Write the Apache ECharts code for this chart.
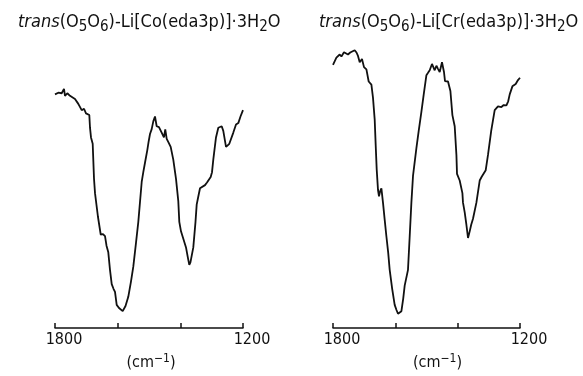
<!DOCTYPE html>
<html>
<head>
<meta charset="utf-8">
<script src="https://cdn.jsdelivr.net/npm/echarts@6/dist/echarts.min.js"></script>
<style>
html,body{margin:0;padding:0;background:#fff;}
#chart{width:583px;height:376px;}
</style>
</head>
<body>
<div id="chart"></div>
<script>
// Left panel: trans(O5O6)-Li[Co(eda3p)]·3H2O  (wavenumber cm-1, transmittance arbitrary %)
const coWavenumber = [1800,1789.5,1778.6,1771.3,1768.1,1760.7,1752.1,1736.2,1725.6,1714.8,1707.4,1701.1,1695.6,1690.5,1688.3,1685.1,1679.7,1675.5,1672.3,1662.8,1654.1,1646.8,1640.4,1635.6,1629.9,1624.5,1619,1613.3,1608.5,1603.1,1595.7,1583.9,1575,1566.1,1557.4,1550.1,1541.5,1534.1,1523.3,1518.2,1512.8,1505.4,1501.6,1496.8,1491.4,1486.3,1480.9,1475.5,1468.2,1459.6,1452.3,1448.1,1443.5,1437.8,1430.8,1422.5,1413.8,1406.5,1403.3,1397.9,1392.4,1381.9,1375.5,1371.4,1367.6,1358.6,1351.6,1347.8,1343.6,1337.2,1331.8,1321.3,1314.9,1303.1,1298.9,1294.8,1286.2,1278.8,1268,1262.9,1254.2,1243.7,1230.9,1222.3,1215,1208,1200];
const coTrans = [81.4,82.0,81.8,83.3,80.9,81.8,80.9,79.8,78.1,75.9,76.4,74.8,75.3,74.2,69.8,66.4,64.2,52.0,47.0,38.7,32.6,32.7,32.0,28.7,26.4,20.3,15.3,13.7,12.6,8.1,7.0,5.9,7.7,10.9,16.3,21.4,29.7,37.0,50.9,54.3,57.6,62.0,64.7,67.6,69.3,72.0,73.7,70.3,70.0,68.1,66.4,69.2,65.9,64.7,63.1,58.7,52.0,44.2,37.0,33.7,33.1,28.1,24.3,22.0,23.0,28.1,37.0,43.0,45.3,48.7,49.0,49.8,50.7,52.6,54.3,58.7,66.4,69.8,70.3,68.7,63.1,64.2,68.1,70.9,71.4,73.7,75.9];
// Right panel: trans(O5O6)-Li[Cr(eda3p)]·3H2O
const crWavenumber = [1800,1789.1,1778.5,1773,1764.7,1759.3,1751.9,1744.8,1739,1730.4,1724.6,1719.8,1714.3,1707,1700.5,1692.8,1685.5,1676.8,1671.7,1666.2,1663,1659.8,1655.6,1652.4,1648.6,1644.7,1639.6,1634.1,1628.7,1622.9,1618.1,1610.1,1602.1,1596.3,1591.4,1586,1580.5,1574.7,1570,1559.4,1553.9,1548.5,1543.3,1532.4,1525,1516.4,1509,1500.3,1494.6,1489.7,1482.4,1473.7,1468.2,1463.1,1457.6,1450.3,1443.9,1440.6,1431,1423.3,1416.9,1409.5,1404,1402.1,1393.5,1384.8,1382.9,1377.4,1372,1366.8,1361.4,1356.6,1350.8,1339.9,1329.3,1322.9,1316.5,1310,1302.7,1292.4,1281.2,1270.6,1259.7,1252.3,1243.6,1237.9,1233,1224.4,1213.8,1206.4,1200];
const crTrans = [91.7,94.2,95.3,94.6,96.1,96.0,95.3,96.0,96.4,96.8,96.0,94.8,92.6,93.7,90.9,90.1,85.9,84.8,80.3,72.6,63.7,55.3,48.1,45.9,47.7,48.7,43.7,37.7,32.0,26.3,20.3,13.7,8.1,6.3,5.0,5.0,5.9,10.3,14.8,20.3,32.0,43.7,53.0,62.7,68.7,75.3,81.3,88.1,89.0,89.8,92.0,89.8,91.4,90.3,89.2,92.6,89.2,86.0,85.9,82.6,74.2,70.3,60.3,53.7,51.4,47.0,43.7,40.3,36.0,31.4,33.7,36.0,38.1,43.7,51.4,52.7,53.1,55.0,60.3,68.7,75.9,77.2,77.0,77.7,77.6,79.0,81.4,84.2,85.0,86.4,87.2];
const tickValues = [1800, 1200];
const titles = [
  '{i|trans}(O{s|5}O{s|6})-Li[Co(eda3p)]·3H{s|2}O',
  '{i|trans}(O{s|5}O{s|6})-Li[Cr(eda3p)]·3H{s|2}O'
];
const axisName = '(cm{sup|−1})';

const FONT = "'DejaVu Sans Condensed', 'Liberation Sans Narrow', 'DejaVu Sans', sans-serif";
const chart = echarts.init(document.getElementById('chart'));
const richTitle = {
  n: {fontSize: 18, fontFamily: FONT, color: '#111', lineHeight: 22},
  i: {fontSize: 18, fontFamily: FONT, fontStyle: 'italic', color: '#111', lineHeight: 22},
  s: {fontSize: 15, fontFamily: FONT, color: '#111', lineHeight: 16, padding: [9,0,0,0], verticalAlign: 'top'}
};
function mkTitle(text, left){
  return {text: text, left: left, top: 6,
    textStyle: {fontSize: 18, fontWeight: 'normal', fontFamily: FONT, color: '#111', lineHeight: 22, rich: richTitle}};
}
function mkX(gi){
  return {
    gridIndex: gi, type: 'value', min: 1200, max: 1800, interval: 200, inverse: true,
    axisLine: {lineStyle: {color: '#111', width: 1.5}},
    axisTick: {inside: true, length: 5, lineStyle: {color: '#111', width: 1.5}},
    splitLine: {show: false},
    axisLabel: {
      color: '#111', fontSize: 16, fontFamily: FONT, margin: 4,
      padding: [0,0,0,18],
      formatter: v => tickValues.indexOf(v) >= 0 ? String(v) : ''
    },
    name: axisName, nameLocation: 'middle', nameGap: 22,
    nameTextStyle: {color: '#111', fontSize: 16, fontFamily: FONT, padding: [0,0,0, gi === 0 ? 4 : 22],
      rich: {sup: {fontSize: 12, fontFamily: FONT, color: '#111', verticalAlign: 'bottom', padding: [0,0,8,0]}}}
  };
}
function mkY(gi){
  return {gridIndex: gi, type: 'value', min: 0, max: 100, show: false, splitLine: {show: false}};
}
function mkSeries(i, xs, ys){
  return {type: 'line', xAxisIndex: i, yAxisIndex: i, showSymbol: false, symbol: 'none',
    lineStyle: {color: '#111', width: 1.8}, data: xs.map((x, k) => [x, ys[k]]), animation: false};
}
chart.setOption({
  backgroundColor: '#fff',
  animation: false,
  title: [mkTitle(titles[0], 13), mkTitle(titles[1], 314)],
  grid: [
    {left: 55, width: 188, top: 41, height: 300},
    {left: 333, width: 187, top: 41, height: 300}
  ],
  xAxis: [mkX(0), mkX(1)],
  yAxis: [mkY(0), mkY(1)],
  series: [mkSeries(0, coWavenumber, coTrans), mkSeries(1, crWavenumber, crTrans)]
});
</script>
</body>
</html>
